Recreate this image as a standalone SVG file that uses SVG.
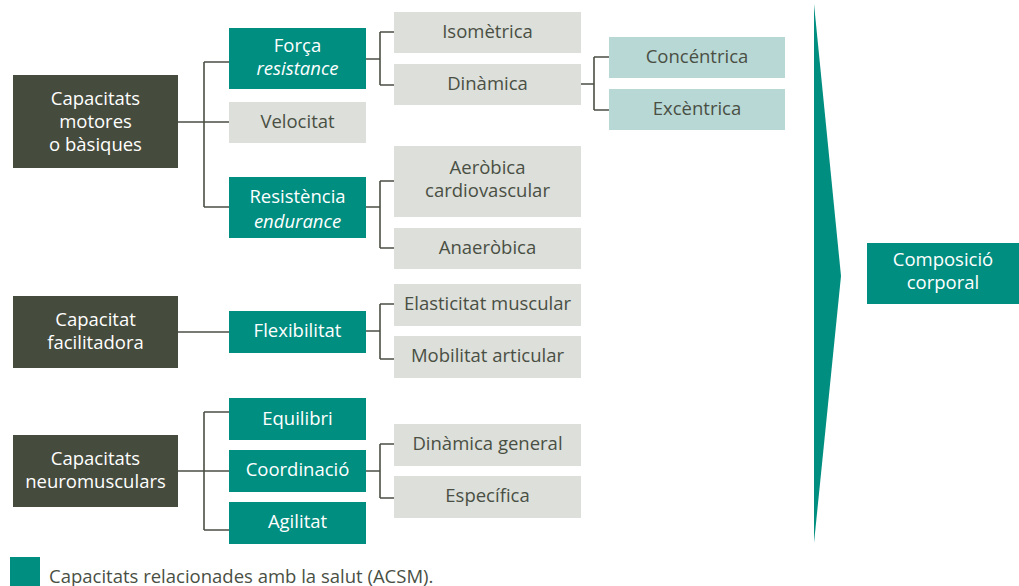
<svg xmlns="http://www.w3.org/2000/svg" width="1019" height="586" viewBox="0 0 1019 586">
<style>
text{font-family:"Open Sans","Liberation Sans",sans-serif;font-size:18.5px;text-anchor:middle}
.dk{fill:#454b3d}.tl{fill:#008e80}.gr{fill:#dcdfda}.lt{fill:#b8d8d5}
.w{fill:#ffffff}.g{fill:#4a4f44}.i{font-style:italic}
.c{fill:none;stroke:#4a4f44;stroke-width:1.6}
</style>
<rect width="1019" height="586" fill="#ffffff"/>
<g id="connectors">
<path class="c" d="M178 122H229M204 62V207M204 62H229M204 207H229"/>
<path class="c" d="M366 59H380M380 32V85M380 32H394M380 85H394"/>
<path class="c" d="M581 84H594M594 57V110M594 57H609M594 110H609"/>
<path class="c" d="M366 207H380M380 181V248M380 181H394M380 248H394"/>
<path class="c" d="M178 332H229"/>
<path class="c" d="M366 331H380M380 304V359M380 304H394M380 359H394"/>
<path class="c" d="M178 471H229M204 412V530M204 412H229M204 530H229"/>
<path class="c" d="M366 471H380M380 444V498M380 444H394M380 498H394"/>
</g>
<g id="arrow"><polygon class="tl" points="814,4 841,276 814,543"/></g>
<g id="n-motores"><rect class="dk" x="13" y="75" width="165" height="93"/><text class="w" x="95.5" y="105">Capacitats</text><text class="w" x="95.5" y="128">motores</text><text class="w" x="95.5" y="151">o bàsiques</text></g>
<g id="n-forca"><rect class="tl" x="229" y="28" width="137" height="61"/><text class="w" x="297.5" y="52">Força</text><text class="w i" x="297.5" y="75">resistance</text></g>
<g id="n-velocitat"><rect class="gr" x="229" y="102" width="137" height="41"/><text class="g" x="297.5" y="128">Velocitat</text></g>
<g id="n-resistencia"><rect class="tl" x="229" y="177" width="137" height="61"/><text class="w" x="297.5" y="203">Resistència</text><text class="w i" x="297.5" y="228">endurance</text></g>
<g id="n-isometrica"><rect class="gr" x="394" y="12" width="187" height="41"/><text class="g" x="487.5" y="38">Isomètrica</text></g>
<g id="n-dinamica"><rect class="gr" x="394" y="64" width="187" height="41"/><text class="g" x="487.5" y="90">Dinàmica</text></g>
<g id="n-concentrica"><rect class="lt" x="609" y="37" width="176" height="41"/><text class="g" x="697" y="63">Concéntrica</text></g>
<g id="n-excentrica"><rect class="lt" x="609" y="89" width="176" height="41"/><text class="g" x="697" y="115">Excèntrica</text></g>
<g id="n-aerobica"><rect class="gr" x="394" y="146" width="187" height="71"/><text class="g" x="487.5" y="174">Aeròbica</text><text class="g" x="487.5" y="197">cardiovascular</text></g>
<g id="n-anaerobica"><rect class="gr" x="394" y="228" width="187" height="41"/><text class="g" x="487.5" y="254">Anaeròbica</text></g>
<g id="n-composicio"><rect class="tl" x="867" y="243" width="152" height="61"/><text class="w" x="943" y="266">Composició</text><text class="w" x="943" y="289">corporal</text></g>
<g id="n-facilitadora"><rect class="dk" x="13" y="296" width="165" height="72"/><text class="w" x="95.5" y="326">Capacitat</text><text class="w" x="95.5" y="349">facilitadora</text></g>
<g id="n-flexibilitat"><rect class="tl" x="229" y="311" width="137" height="42"/><text class="w" x="297.5" y="337">Flexibilitat</text></g>
<g id="n-elasticitat"><rect class="gr" x="394" y="284" width="187" height="42"/><text class="g" x="487.5" y="310">Elasticitat muscular</text></g>
<g id="n-mobilitat"><rect class="gr" x="394" y="336" width="187" height="42"/><text class="g" x="487.5" y="362">Mobilitat articular</text></g>
<g id="n-neuro"><rect class="dk" x="13" y="435" width="165" height="72"/><text class="w" x="95.5" y="465">Capacitats</text><text class="w" x="95.5" y="488">neuromusculars</text></g>
<g id="n-equilibri"><rect class="tl" x="229" y="398" width="137" height="42"/><text class="w" x="297.5" y="425">Equilibri</text></g>
<g id="n-coordinacio"><rect class="tl" x="229" y="450" width="137" height="42"/><text class="w" x="297.5" y="476">Coordinació</text></g>
<g id="n-agilitat"><rect class="tl" x="229" y="502" width="137" height="42"/><text class="w" x="297.5" y="528">Agilitat</text></g>
<g id="n-dinamica-general"><rect class="gr" x="394" y="424" width="187" height="42"/><text class="g" x="487.5" y="450">Dinàmica general</text></g>
<g id="n-especifica"><rect class="gr" x="394" y="476" width="187" height="42"/><text class="g" x="487.5" y="502">Específica</text></g>
<g id="legend"><rect class="tl" x="10" y="557" width="30" height="29"/><text class="g" x="49" y="583" style="text-anchor:start;font-size:18.5px">Capacitats relacionades amb la salut (ACSM).</text></g>
</svg>
